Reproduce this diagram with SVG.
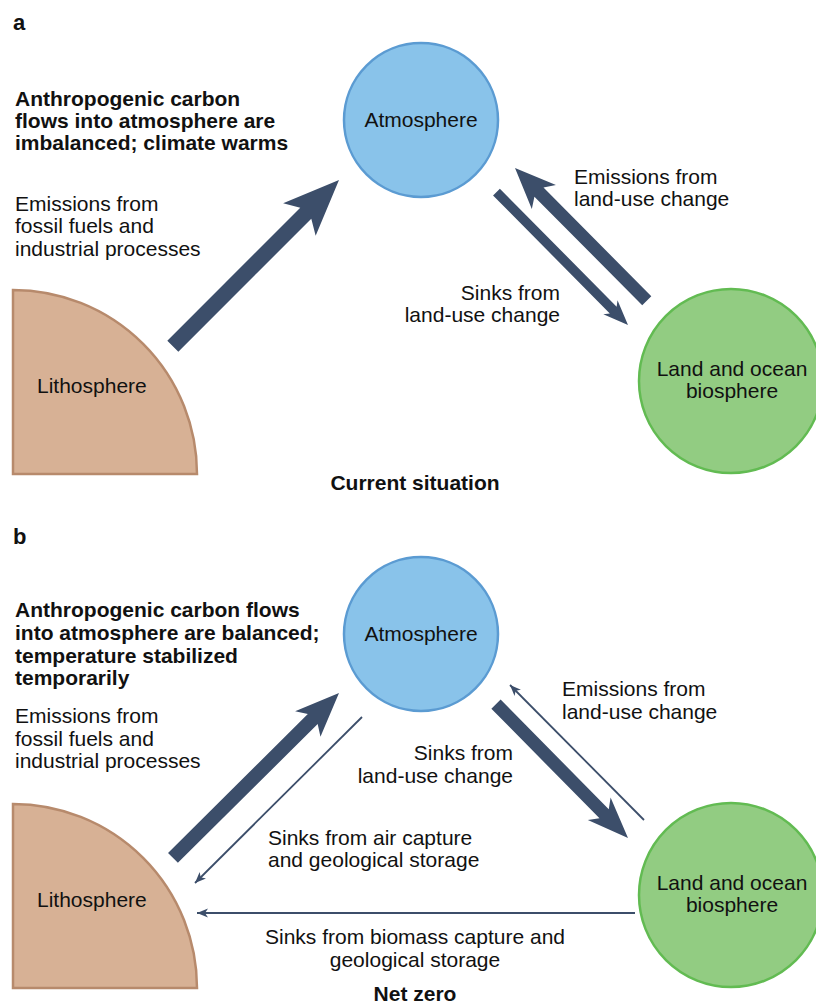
<svg xmlns="http://www.w3.org/2000/svg" width="816" height="1003" viewBox="0 0 816 1003">
  <style>
    text { font-family: "Liberation Sans", Arial, Helvetica, sans-serif; font-size: 21px; fill: #111; }
    .b { font-weight: bold; }
    .mid { text-anchor: middle; }
    .end { text-anchor: end; }
    .atm { fill: #89c3ea; stroke: #5b9bd2; stroke-width: 2.5; }
    .bio { fill: #92cc82; stroke: #62bb52; stroke-width: 2.5; }
    .lith { fill: #d7b195; stroke: #b78a6c; stroke-width: 2.5; }
    .flow { fill: #3c4e6a; }
    .thin { stroke: #3c4e6a; stroke-width: 1.8; fill: none; marker-end: url(#tip); }
  </style>
  <defs>
    <marker id="tip" markerUnits="userSpaceOnUse" markerWidth="14" markerHeight="12" viewBox="-12 -6 14 12" refX="0" refY="0" orient="auto">
      <path d="M0,0 L-11,-4.5 L-8,0 L-11,4.5 Z" fill="#3c4e6a"/>
    </marker>
  </defs>

  <!-- Panel a: current situation -->
  <text class="b" x="13" y="30" style="font-size:22px">a</text>
  <text class="b" x="15" y="106">Anthropogenic carbon</text>
  <text class="b" x="15" y="128">flows into atmosphere are</text>
  <text class="b" x="15" y="150">imbalanced; climate warms</text>
  <text x="15" y="211">Emissions from</text>
  <text x="15" y="233">fossil fuels and</text>
  <text x="15" y="256">industrial processes</text>

  <g id="a-atmosphere">
    <circle class="atm" cx="421" cy="120" r="77"/>
    <text class="mid" x="421" y="127">Atmosphere</text>
  </g>
  <g id="a-biosphere">
    <circle class="bio" cx="731" cy="381" r="92"/>
    <text class="mid" x="732" y="376">Land and ocean</text>
    <text class="mid" x="732" y="398">biosphere</text>
  </g>
  <g id="a-lithosphere">
    <path class="lith" d="M13,290 A184,184 0 0 1 197,474 L13,474 Z"/>
    <text x="37" y="393">Lithosphere</text>
  </g>

  <g id="a-connectors">
    <polygon class="flow" transform="translate(339,180) rotate(-45)" points="0,0 -56,-23 -47,-7.8 -235,-7.8 -235,7.8 -47,7.8 -56,23"/>
    <polygon class="flow" transform="translate(515,168) rotate(-134.8)" points="0,0 -41,-17 -34,-6.4 -187,-6.4 -187,6.4 -34,6.4 -41,17"/>
    <polygon class="flow" transform="translate(628,325) rotate(45.3)" points="0,0 -25,-10 -21,-4.8 -187,-4.8 -187,4.8 -21,4.8 -25,10"/>
  </g>

  <text x="574" y="184">Emissions from</text>
  <text x="574" y="206">land-use change</text>
  <text class="end" x="560" y="300">Sinks from</text>
  <text class="end" x="560" y="322">land-use change</text>
  <text class="b mid" x="415" y="490">Current situation</text>

  <!-- Panel b: net zero -->
  <text class="b" x="13" y="544" style="font-size:22px">b</text>
  <text class="b" x="15" y="617">Anthropogenic carbon flows</text>
  <text class="b" x="15" y="640">into atmosphere are balanced;</text>
  <text class="b" x="15" y="663">temperature stabilized</text>
  <text class="b" x="15" y="685">temporarily</text>
  <text x="15" y="723">Emissions from</text>
  <text x="15" y="746">fossil fuels and</text>
  <text x="15" y="768">industrial processes</text>

  <g id="b-atmosphere">
    <circle class="atm" cx="421" cy="634" r="77"/>
    <text class="mid" x="421" y="641">Atmosphere</text>
  </g>
  <g id="b-biosphere">
    <circle class="bio" cx="731" cy="895" r="92"/>
    <text class="mid" x="732" y="890">Land and ocean</text>
    <text class="mid" x="732" y="912">biosphere</text>
  </g>
  <g id="b-lithosphere">
    <path class="lith" d="M13,804 A184,184 0 0 1 197,988 L13,988 Z"/>
    <text x="37" y="907">Lithosphere</text>
  </g>

  <g id="b-connectors">
    <polygon class="flow" transform="translate(339,693) rotate(-44.8)" points="0,0 -44,-18 -37,-7 -234,-7 -234,7 -37,7 -44,18"/>
    <polygon class="flow" transform="translate(628,838) rotate(45.4)" points="0,0 -41,-16 -34,-6.5 -188,-6.5 -188,6.5 -34,6.5 -41,16"/>
    <line class="thin" x1="362" y1="717" x2="195" y2="883"/>
    <line class="thin" x1="644" y1="820" x2="510" y2="685"/>
    <line class="thin" x1="635" y1="913" x2="197" y2="913"/>
  </g>

  <text x="562" y="696">Emissions from</text>
  <text x="562" y="719">land-use change</text>
  <text class="end" x="513" y="760">Sinks from</text>
  <text class="end" x="513" y="783">land-use change</text>
  <text x="268" y="845">Sinks from air capture</text>
  <text x="268" y="867">and geological storage</text>
  <text class="mid" x="415" y="944">Sinks from biomass capture and</text>
  <text class="mid" x="415" y="967">geological storage</text>
  <text class="b mid" x="415" y="1001">Net zero</text>
</svg>
